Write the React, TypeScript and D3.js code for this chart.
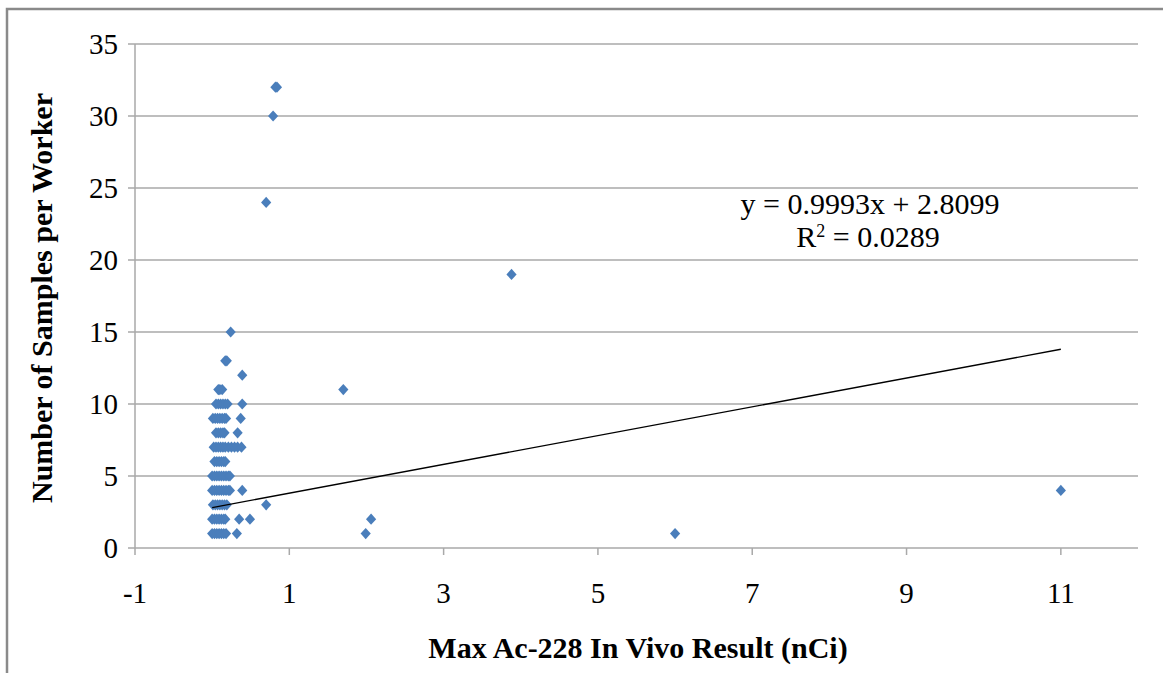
import React from "react";
import * as d3 from "d3";

// Max Ac-228 in vivo result (nCi) for each worker, with the number of samples taken
const resultNCi: number[] = [
  // 1 sample
  0.0, 0.03, 0.06, 0.09, 0.12, 0.15, 0.18, 0.32, 1.99, 6.0,
  // 2 samples
  0.0, 0.03, 0.06, 0.09, 0.12, 0.15, 0.17, 0.35, 0.49, 2.06,
  // 3 samples
  0.01, 0.04, 0.07, 0.1, 0.13, 0.16, 0.19, 0.7,
  // 4 samples
  0.0, 0.03, 0.06, 0.09, 0.12, 0.15, 0.18, 0.21, 0.23, 0.39, 11.0,
  // 5 samples
  0.0, 0.03, 0.06, 0.09, 0.12, 0.15, 0.18, 0.21, 0.23,
  // 6 samples
  0.03, 0.06, 0.09, 0.12, 0.15, 0.17,
  // 7 samples
  0.02, 0.05, 0.08, 0.11, 0.14, 0.17, 0.21, 0.25, 0.29, 0.33, 0.38,
  // 8 samples
  0.05, 0.08, 0.11, 0.14, 0.16, 0.33,
  // 9 samples
  0.01, 0.04, 0.07, 0.1, 0.13, 0.16, 0.18, 0.37,
  // 10 samples
  0.05, 0.08, 0.11, 0.14, 0.17, 0.2, 0.39,
  // 11 samples
  0.08, 0.1, 0.13, 1.7,
  // 12, 13, 15, 19, 24, 30, 32 samples
  0.39, 0.17, 0.19, 0.24, 3.88, 0.7, 0.79, 0.82, 0.84,
];

const samplesPerWorker: number[] = [
  1, 1, 1, 1, 1, 1, 1, 1, 1, 1,
  2, 2, 2, 2, 2, 2, 2, 2, 2, 2,
  3, 3, 3, 3, 3, 3, 3, 3,
  4, 4, 4, 4, 4, 4, 4, 4, 4, 4, 4,
  5, 5, 5, 5, 5, 5, 5, 5, 5,
  6, 6, 6, 6, 6, 6,
  7, 7, 7, 7, 7, 7, 7, 7, 7, 7, 7,
  8, 8, 8, 8, 8, 8,
  9, 9, 9, 9, 9, 9, 9, 9,
  10, 10, 10, 10, 10, 10, 10,
  11, 11, 11, 11,
  12, 13, 13, 15, 19, 24, 30, 32, 32,
];

// Linear trendline as reported on the chart
const slope = 0.9993;
const intercept = 2.8099;
const rSquared = 0.0289;

const xTicks = [-1, 1, 3, 5, 7, 9, 11];
const yTicks = [0, 5, 10, 15, 20, 25, 30, 35];

const xTitle = "Max\u2009Ac-228 In Vivo Result (nCi)";
const yTitle = "Number of Samples per Worker";

const W = 1163;
const H = 673;
const plot = { left: 135, right: 1138, top: 44, bottom: 548 };
const serif = "'Liberation Serif', 'Times New Roman', serif";
const markerColor = "#4a7ebb";
const gridColor = "#a9a9a9";

export default function App() {
  const x = d3.scaleLinear().domain([-1, 12]).range([plot.left, plot.right]);
  const y = d3.scaleLinear().domain([0, 35]).range([plot.bottom, plot.top]);

  const points = resultNCi.map((v, i) => ({ x: v, y: samplesPerWorker[i] }));
  const [xMin, xMax] = d3.extent(resultNCi) as [number, number];
  const trend = d3
    .line<number>()
    .x((d) => x(d))
    .y((d) => y(slope * d + intercept))([xMin, xMax]);

  // diamond marker: a square turned 45 degrees, slightly taller than wide
  const diamond = d3.symbol().type(d3.symbolSquare).size(52)();

  return (
    <div style={{ position: "absolute", left: 0, top: 0 }}>
      <svg width={W} height={H} style={{ display: "block", background: "#fff" }}>
        {/* outer chart frame */}
        <rect x={7} y={9} width={W + 20} height={H + 20} fill="#fff" stroke="#8a8a8a" strokeWidth={2.5} />

        {/* horizontal gridlines */}
        {yTicks.map((t) => (
          <line
            key={"g" + t}
            x1={plot.left - 7}
            x2={plot.right}
            y1={y(t)}
            y2={y(t)}
            stroke={gridColor}
            strokeWidth={1.5}
          />
        ))}
        {/* value axis line */}
        <line x1={plot.left} x2={plot.left} y1={plot.top} y2={plot.bottom} stroke={gridColor} strokeWidth={1.5} />
        {/* category axis ticks */}
        {xTicks.map((t) => (
          <line key={"xt" + t} x1={x(t)} x2={x(t)} y1={plot.bottom} y2={plot.bottom + 7} stroke={gridColor} strokeWidth={1.5} />
        ))}

        {/* tick labels */}
        {yTicks.map((t) => (
          <text
            key={"yl" + t}
            x={118}
            y={y(t)}
            dy="0.34em"
            textAnchor="end"
            fontFamily={serif}
            fontSize={29}
            fill="#000"
          >
            {t}
          </text>
        ))}
        {xTicks.map((t) => (
          <text
            key={"xl" + t}
            x={x(t)}
            y={603}
            textAnchor="middle"
            fontFamily={serif}
            fontSize={29}
            fill="#000"
          >
            {t}
          </text>
        ))}

        {/* data points */}
        {points.map((p, i) => (
          <path
            key={"p" + i}
            d={diamond || ""}
            transform={`translate(${x(p.x)},${y(p.y)}) scale(1,1.1) rotate(45)`}
            fill={markerColor}
          />
        ))}

        {/* trendline */}
        <path d={trend || ""} fill="none" stroke="#000" strokeWidth={1.3} />

        {/* trendline equation */}
        <text x={870} y={214} textAnchor="middle" fontFamily={serif} fontSize={30} fill="#000">
          {`y = ${slope}x + ${intercept}`}
        </text>
        <text x={868} y={247} textAnchor="middle" fontFamily={serif} fontSize={30} fill="#000">
          R<tspan dy={-10} fontSize={18}>2</tspan>
          <tspan dy={10}>{` = ${rSquared}`}</tspan>
        </text>

        {/* axis titles */}
        <text
          x={638}
          y={658}
          textAnchor="middle"
          fontFamily={serif}
          fontSize={30}
          fontWeight="bold"
          fill="#000"
        >
          {xTitle}
        </text>
        <text
          transform={`translate(52,${(plot.top + plot.bottom) / 2 + 2}) rotate(-90)`}
          textAnchor="middle"
          fontFamily={serif}
          fontSize={30}
          fontWeight="bold"
          fill="#000"
        >
          {yTitle}
        </text>
      </svg>
    </div>
  );
}
